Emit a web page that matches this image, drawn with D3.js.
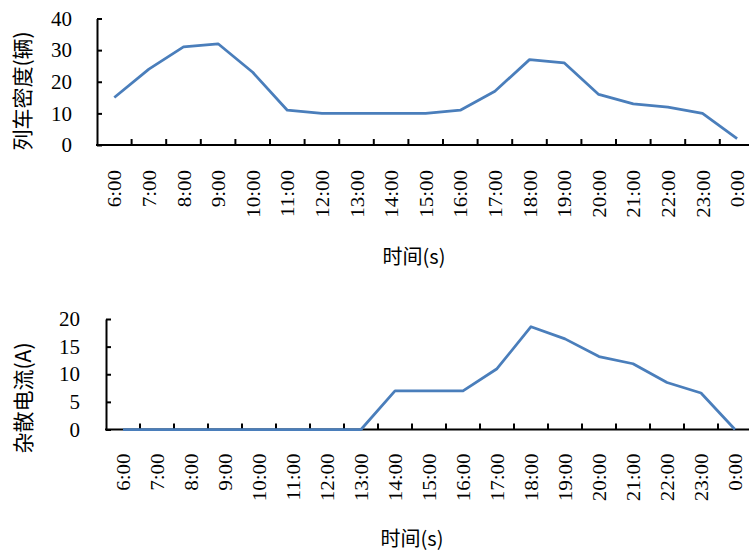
<!DOCTYPE html>
<html><head><meta charset="utf-8">
<script src="https://cdn.jsdelivr.net/npm/d3@7"></script>
<style>body{margin:0;background:#fff}svg{display:block}</style>
</head><body>
<script>
const categories = ["6:00","7:00","8:00","9:00","10:00","11:00","12:00","13:00","14:00","15:00","16:00","17:00","18:00","19:00","20:00","21:00","22:00","23:00","0:00"];
const trainDensity = [15,24,31,32,23,11,10,10,10,10,11,17,27,26,16,13,12,10,2];
const strayCurrent = [0,0,0,0,0,0,0,0,7,7,7,11,18.6,16.4,13.2,11.9,8.5,6.6,0];
const topTicks = [0,10,20,30,40];
const bottomTicks = [0,5,10,15,20];
const topYLabel = "列车密度(辆)";
const bottomYLabel = "杂散电流(A)";
const xLabel = "时间(s)";

const W = 749, H = 551;
const svg = d3.select("body").append("svg").attr("width", W).attr("height", H);
const serif = "Liberation Serif, Times New Roman, DejaVu Serif, serif";
const cjk = "Noto Sans CJK SC, Noto Sans, sans-serif";

function panel(cfg) {
  const g = svg.append("g");
  const x = d3.scaleBand().domain(categories).range([cfg.left, cfg.left + categories.length * cfg.band]).padding(0);
  const y = d3.scaleLinear().domain([0, cfg.max]).range([cfg.bottom, cfg.top]);

  // y axis
  const ya = g.append("g").attr("transform", `translate(${cfg.left},0)`)
    .call(d3.axisLeft(y).tickValues(cfg.ticks).tickSizeInner(-5).tickSizeOuter(0).tickPadding(cfg.ypad));
  ya.attr("font-family", null).attr("font-size", null);
  ya.select(".domain").attr("stroke", "#000").attr("stroke-width", 2);
  ya.selectAll(".tick line").attr("stroke", "#000").attr("stroke-width", 2);
  ya.selectAll(".tick text").style("font-family", serif).style("font-size", "21px").attr("fill", "#000");

  // x axis labels
  const xa = g.append("g").attr("transform", `translate(0,${cfg.bottom})`)
    .call(d3.axisBottom(x).tickSize(0).tickPadding(0));
  xa.attr("font-family", null).attr("font-size", null);
  xa.select(".domain").remove();
  xa.selectAll(".tick text")
    .style("font-family", serif).style("font-size", "21px").attr("fill", "#000")
    .attr("text-anchor", "end").attr("dy", null)
    .attr("transform", `translate(7,${cfg.xpad}) rotate(-90) scale(1,0.85)`)
    .attr("y", 0).attr("x", 0);

  // x axis line
  g.append("line").attr("x1", cfg.left - 1).attr("x2", W).attr("y1", cfg.bottom).attr("y2", cfg.bottom)
    .attr("stroke", "#000").attr("stroke-width", 2);
  // boundary ticks (inward)
  g.selectAll("line.bt").data(categories.slice(1)).join("line").attr("class", "bt")
    .attr("x1", d => x(d)).attr("x2", d => x(d))
    .attr("y1", cfg.bottom).attr("y2", cfg.bottom - 6)
    .attr("stroke", "#000").attr("stroke-width", 2);

  // line
  const line = d3.line().x((d, i) => x(categories[i]) + x.bandwidth() / 2).y(d => y(d));
  g.append("path").datum(cfg.values).attr("d", line)
    .attr("fill", "none").attr("stroke", "#4a7ebb").attr("stroke-width", 2.75)
    .attr("stroke-linejoin", "round");

  // y title
  g.append("text").attr("transform", `translate(${cfg.ytX},${cfg.ytY}) rotate(-90)`)
    .attr("text-anchor", "middle").attr("dy", "0.35em")
    .style("font-family", cjk).style("font-size", "21px").attr("fill", "#000").text(cfg.ytitle);
  // x title
  g.append("text").attr("x", cfg.xtX).attr("y", cfg.xtY).attr("text-anchor", "middle")
    .style("font-family", cjk).style("font-size", "20px").attr("fill", "#000").text(xLabel);
}

panel({left: 97, band: 34.6, top: 18.5, bottom: 145, max: 40, ticks: topTicks, values: trainDensity,
  ypad: 25, xpad: 25, ytitle: topYLabel, ytX: 23, ytY: 91, xtX: 414, xtY: 264});
panel({left: 106, band: 34.0, top: 319, bottom: 429.5, max: 20, ticks: bottomTicks, values: strayCurrent,
  ypad: 26, xpad: 24, ytitle: bottomYLabel, ytX: 24, ytY: 398, xtX: 412, xtY: 546});
</script>
</body></html>
